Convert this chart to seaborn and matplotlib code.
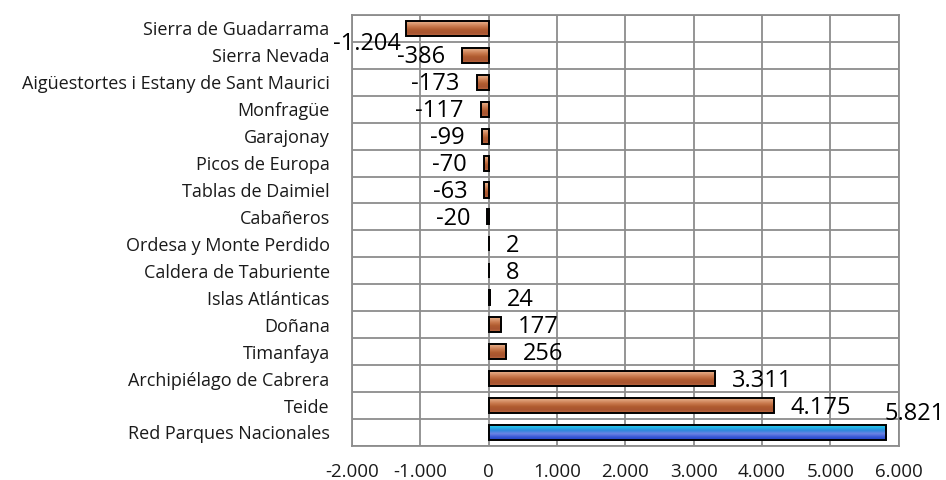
import numpy as np
import pandas as pd
import matplotlib
matplotlib.use("Agg")
import matplotlib.pyplot as plt
from matplotlib.colors import LinearSegmentedColormap
from matplotlib.ticker import FixedLocator, FuncFormatter
import seaborn as sns

parques = [
    "Sierra de Guadarrama", "Sierra Nevada", "Aigüestortes i Estany de Sant Maurici",
    "Monfragüe", "Garajonay", "Picos de Europa", "Tablas de Daimiel", "Cabañeros",
    "Ordesa y Monte Perdido", "Caldera de Taburiente", "Islas Atlánticas", "Doñana",
    "Timanfaya", "Archipiélago de Cabrera", "Teide", "Red Parques Nacionales",
]
variacion = [-1204, -386, -173, -117, -99, -70, -63, -20, 2, 8, 24, 177, 256, 3311, 4175, 5821]
x_ticks = [-2000, -1000, 0, 1000, 2000, 3000, 4000, 5000, 6000]

df = pd.DataFrame({"parque": parques, "valor": variacion})

sns.set_theme(style="white")
plt.rcParams["font.family"] = ["Open Sans", "DejaVu Sans"]

fig = plt.figure(figsize=(9.46, 4.8), dpi=100)
ax = fig.add_axes([0.372, 0.071, 0.578, 0.898])

sns.barplot(data=df, y="parque", x="valor", orient="h", width=0.56,
            color="#c07040", ax=ax, zorder=3)

grid_c = "#8c8c8c"
ax.set_xlim(x_ticks[0], x_ticks[-1])
ax.set_ylim(len(parques) - 0.5, -0.5)
ax.xaxis.set_major_locator(FixedLocator(x_ticks))
ax.xaxis.set_major_formatter(FuncFormatter(lambda v, _: f"{int(v):,}".replace(",", ".")))
ax.yaxis.set_minor_locator(FixedLocator(np.arange(-0.5, len(parques), 1.0)))
ax.grid(True, axis="x", which="major", color=grid_c, lw=1.3, zorder=0)
ax.grid(True, axis="y", which="minor", color=grid_c, lw=1.3, zorder=0)
ax.grid(False, axis="y", which="major")
for s in ax.spines.values():
    s.set_color(grid_c)
    s.set_linewidth(1.3)
ax.tick_params(axis="both", which="both", length=0)
ax.tick_params(axis="x", pad=12.5, labelsize=13.5, colors="#1a1a1a")
ax.tick_params(axis="y", pad=16, labelsize=13, colors="#1a1a1a")
ax.set_xlabel("")
ax.set_ylabel("")

# Gradient fills clipped to each bar
copper = LinearSegmentedColormap.from_list(
    "copper_bar", ["#f2bc9a", "#dc9c74", "#c8784c", "#b05c30", "#a85430", "#b86a42"])
blue = LinearSegmentedColormap.from_list(
    "blue_bar", ["#3ad6f2", "#22b8e6", "#2e86dc", "#6c84e4", "#3a5ad6", "#2040c4"])
grad = np.linspace(0, 1, 64).reshape(-1, 1)
for patch, name in zip(ax.patches, parques):
    x0, y0 = patch.get_x(), patch.get_y()
    w, h = patch.get_width(), patch.get_height()
    cmap = blue if name == "Red Parques Nacionales" else copper
    im = ax.imshow(grad, cmap=cmap, aspect="auto", interpolation="bilinear",
                   extent=(min(x0, x0 + w), max(x0, x0 + w), y0 + h, y0), zorder=3)
    im.set_clip_path(patch)
    patch.set_facecolor("none")
    patch.set_edgecolor("black")
    patch.set_linewidth(1.4)
    patch.set_zorder(4)
ax.set_xlim(x_ticks[0], x_ticks[-1])
ax.set_ylim(len(parques) - 0.5, -0.5)

# Value labels, thousands separated with a dot
nudge = {"Sierra de Guadarrama": (12, -16), "Red Parques Nacionales": (-19, 18)}
for i, (name, v) in enumerate(zip(parques, variacion)):
    txt = f"{v:,}".replace(",", ".")
    dx, dy = nudge.get(name, (0, -2))
    if v < 0:
        ax.annotate(txt, (v, i), xytext=(-17 + dx, dy), textcoords="offset pixels",
                    ha="right", va="center", fontsize=17, color="black",
                    annotation_clip=False, zorder=6)
    else:
        ax.annotate(txt, (v, i), xytext=(17 + dx, dy), textcoords="offset pixels",
                    ha="left", va="center", fontsize=17, color="black",
                    annotation_clip=False, zorder=6)

fig.savefig("out.png", dpi=100, facecolor="white")
